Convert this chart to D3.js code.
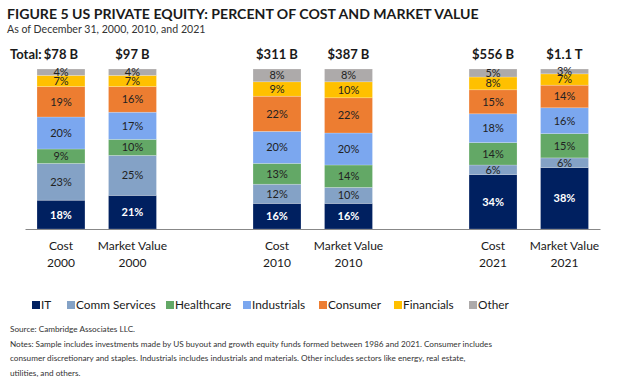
<!DOCTYPE html>
<html>
<head>
<meta charset="utf-8">
<script src="https://cdn.jsdelivr.net/npm/d3@7"></script>
<style>
  body { margin: 0; background: #fff; }
  svg text { font-family: Lato, "Open Sans", sans-serif; }
</style>
</head>
<body>
<svg id="chart" width="618" height="388"></svg>
<script>
// donnees
var years = ["2000", "2010", "2021"];
var measures = ["Cost", "Market Value"];
var sectors = ["IT", "Comm Services", "Healthcare", "Industrials", "Consumer", "Financials", "Other"];
var colors = ["#002060", "#84A2C6", "#63A866", "#7BA7EF", "#ED7D31", "#FFC000", "#ADAAAA"];
var totals = ["$78 B", "$97 B", "$311 B", "$387 B", "$556 B", "$1.1 T"];
// une ligne par barre : IT, Comm, Health, Indus, Consumer, Financials, Other
var pct2000Cost = [18, 23, 9, 20, 19, 7, 4];
var pct2000MV = [21, 25, 10, 17, 16, 7, 4];
var pct2010Cost = [16, 12, 13, 20, 22, 9, 8];
var pct2010MV = [16, 10, 14, 20, 22, 10, 8];
var pct2021Cost = [34, 6, 14, 18, 15, 8, 5];
var pct2021MV = [38, 6, 15, 16, 14, 7, 3];

var rows = [pct2000Cost, pct2000MV, pct2010Cost, pct2010MV, pct2021Cost, pct2021MV];
var data = rows.map(function (r, i) {
    var o = { year: years[Math.floor(i / 2)], measure: measures[i % 2], total: totals[i] };
    sectors.forEach(function (s, j) { o[s] = r[j]; });
    return o;
});

var svg = d3.select("#chart");

// titre
svg.append("text").attr("x", 7).attr("y", 19)
    .attr("font-size", 14.1).attr("font-weight", "bold").attr("fill", "#1a1a1a")
    .text("FIGURE 5 US PRIVATE EQUITY: PERCENT OF COST AND MARKET VALUE");
svg.append("text").attr("x", 7).attr("y", 33)
    .attr("font-size", 10.6).attr("fill", "#333")
    .text("As of December 31, 2000, 2010, and 2021");

var x0 = d3.scaleBand().domain(years).range([37, 588.5]).paddingInner(0.447).paddingOuter(0);
var x1 = d3.scaleBand().domain(measures).range([0, x0.bandwidth()]).paddingInner(0.329).paddingOuter(0);
var y = d3.scaleLinear().domain([0, 1]).range([229, 69]);
var color = d3.scaleOrdinal().domain(sectors).range(colors);

var stack = d3.stack().keys(sectors).offset(d3.stackOffsetExpand);
var series = stack(data);

var g = svg.append("g");

series.forEach(function (s) {
    g.selectAll(null).data(s).enter().append("rect")
        .attr("x", function (d) { return x0(d.data.year) + x1(d.data.measure); })
        .attr("width", x1.bandwidth())
        .attr("y", function (d) { return y(d[1]); })
        .attr("height", function (d) { return y(d[0]) - y(d[1]); })
        .attr("fill", color(s.key))
        .attr("stroke", "#fff").attr("stroke-opacity", 0.35).attr("stroke-width", 0.6);

    g.selectAll(null).data(s).enter().append("text")
        .attr("x", function (d) { return x0(d.data.year) + x1(d.data.measure) + x1.bandwidth() / 2; })
        .attr("y", function (d) { return (y(d[0]) + y(d[1])) / 2; })
        .attr("dy", "0.36em")
        .attr("text-anchor", "middle")
        .attr("font-size", 11)
        .attr("font-weight", s.key == "IT" ? "bold" : "normal")
        .attr("fill", s.key == "IT" ? "#fff" : "#222")
        .text(function (d) { return d.data[s.key] + "%"; });
});

// axe du bas
var xAxis = d3.axisBottom(d3.scaleLinear().range([25, 600])).ticks(0).tickSize(0).tickFormat("");
svg.append("g").attr("transform", "translate(0,229)").call(xAxis)
    .select(".domain").attr("stroke", "#888").attr("stroke-width", 1);

// etiquettes de barres
data.forEach(function (d) {
    var cx = x0(d.year) + x1(d.measure) + x1.bandwidth() / 2;
    var t = svg.append("text").attr("text-anchor", "middle").attr("font-size", 12).attr("fill", "#1a1a1a");
    t.append("tspan").attr("x", cx).attr("y", 250).text(d.measure);
    t.append("tspan").attr("x", cx).attr("y", 267).text(d.year);
    svg.append("text").attr("x", cx).attr("y", 59).attr("text-anchor", "middle")
        .attr("font-size", 13).attr("font-weight", "bold").attr("fill", "#1a1a1a")
        .text(d.total);
});
svg.append("text").attr("x", 10).attr("y", 59)
    .attr("font-size", 13).attr("font-weight", "bold").attr("fill", "#1a1a1a")
    .text("Total:");

// legende
var legX = [32, 67, 166, 243, 319, 394, 469];
var leg = svg.append("g").selectAll("g").data(sectors).enter().append("g")
    .attr("transform", function (d, i) { return "translate(" + legX[i] + ",305)"; });
leg.append("rect").attr("x", 0).attr("y", -4).attr("width", 8).attr("height", 8)
    .attr("fill", function (d) { return color(d); });
leg.append("text").attr("x", 9).attr("dy", "0.36em").attr("font-size", 11.8).attr("fill", "#1a1a1a")
    .text(function (d) { return d; });

// source et notes
var notes = [
    "Source: Cambridge Associates LLC.",
    "Notes: Sample includes investments made by US buyout and growth equity funds formed between 1986 and 2021. Consumer includes",
    "consumer discretionary and staples. Industrials includes industrials and materials. Other includes sectors like energy, real estate,",
    "utilities, and others."
];
svg.selectAll(".note").data(notes).enter().append("text")
    .attr("class", "note")
    .attr("x", 10).attr("y", function (d, i) { return 332 + i * 14.5; })
    .attr("font-size", 8.2).attr("fill", "#333")
    .text(function (d) { return d; });
</script>
</body>
</html>
